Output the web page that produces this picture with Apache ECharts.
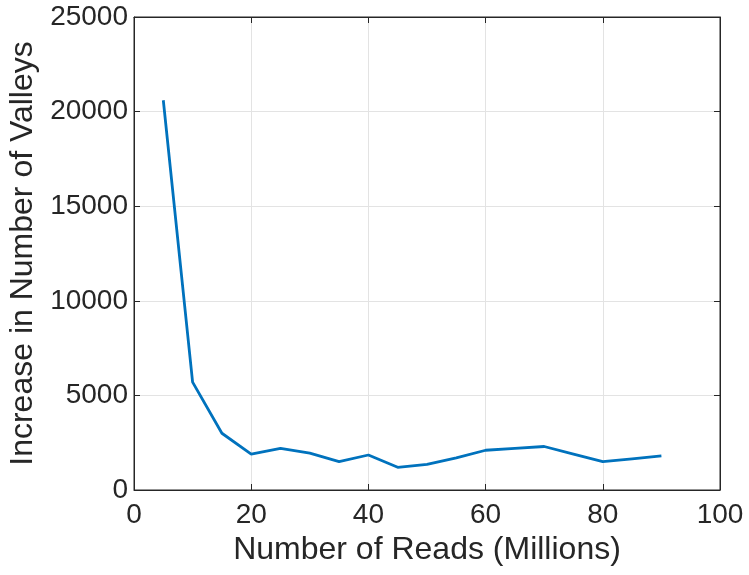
<!DOCTYPE html>
<html><head><meta charset="utf-8">
<script src="https://cdn.jsdelivr.net/npm/echarts@6/dist/echarts.min.js"></script>
<style>html,body{margin:0;padding:0;background:#fff}#c{width:749px;height:575px}</style>
</head><body><div id="c"></div>
<script>
const readsMillions = [5, 10, 15, 20, 25, 30, 35, 40, 45, 50, 55, 60, 65, 70, 75, 80, 85, 90];
const valleyIncrease = [20600, 5700, 3000, 1900, 2200, 1950, 1500, 1850, 1200, 1350, 1700, 2100, 2200, 2300, 1900, 1500, 1650, 1800];
const xTitle = 'Number of Reads (Millions)';
const yTitle = 'Increase in Number of Valleys';

const txt = '#262626';
const font = 'Liberation Sans, Arial, Helvetica, sans-serif';
const chart = echarts.init(document.getElementById('c'), null, {renderer: 'canvas'});
const axisLineStyle = {color: txt, width: 1};
const tick = {show: true, inside: true, length: 6, lineStyle: {color: txt, width: 1}};
chart.setOption({
  animation: false,
  grid: {left: 134, right: 29, top: 17, bottom: 85, show: true, borderColor: txt, borderWidth: 1,
         containLabel: false, outerBoundsMode: 'none'},
  xAxis: [{
    type: 'value', min: 0, max: 100, interval: 20, position: 'bottom',
    name: xTitle, nameLocation: 'middle', nameGap: 23,
    nameTextStyle: {color: txt, fontSize: 32, fontFamily: font},
    axisLine: {show: true, onZero: false, lineStyle: axisLineStyle},
    axisTick: tick,
    axisLabel: {color: txt, fontSize: 28, fontFamily: font, margin: 11, formatter: v => String(v)},
    splitLine: {show: true, lineStyle: {color: '#e3e3e3', width: 1}}
  }, {
    type: 'value', min: 0, max: 100, interval: 20, position: 'top',
    axisLine: {show: true, onZero: false, lineStyle: axisLineStyle},
    axisTick: tick,
    axisLabel: {show: false}, splitLine: {show: false}
  }],
  yAxis: [{
    type: 'value', min: 0, max: 25000, interval: 5000, position: 'left',
    name: yTitle, nameLocation: 'middle', nameGap: 95,
    nameTextStyle: {color: txt, fontSize: 32, fontFamily: font},
    axisLine: {show: true, onZero: false, lineStyle: axisLineStyle},
    axisTick: tick,
    axisLabel: {color: txt, fontSize: 28, fontFamily: font, margin: 6, formatter: v => String(v)},
    splitLine: {show: true, lineStyle: {color: '#e3e3e3', width: 1}}
  }, {
    type: 'value', min: 0, max: 25000, interval: 5000, position: 'right',
    axisLine: {show: true, onZero: false, lineStyle: axisLineStyle},
    axisTick: tick,
    axisLabel: {show: false}, splitLine: {show: false}
  }],
  series: [{
    type: 'line',
    data: readsMillions.map((x, i) => [x, valleyIncrease[i]]),
    showSymbol: false, symbol: 'none',
    lineStyle: {color: '#0072BD', width: 2.8},
    itemStyle: {color: '#0072BD'}
  }]
});
</script></body></html>
